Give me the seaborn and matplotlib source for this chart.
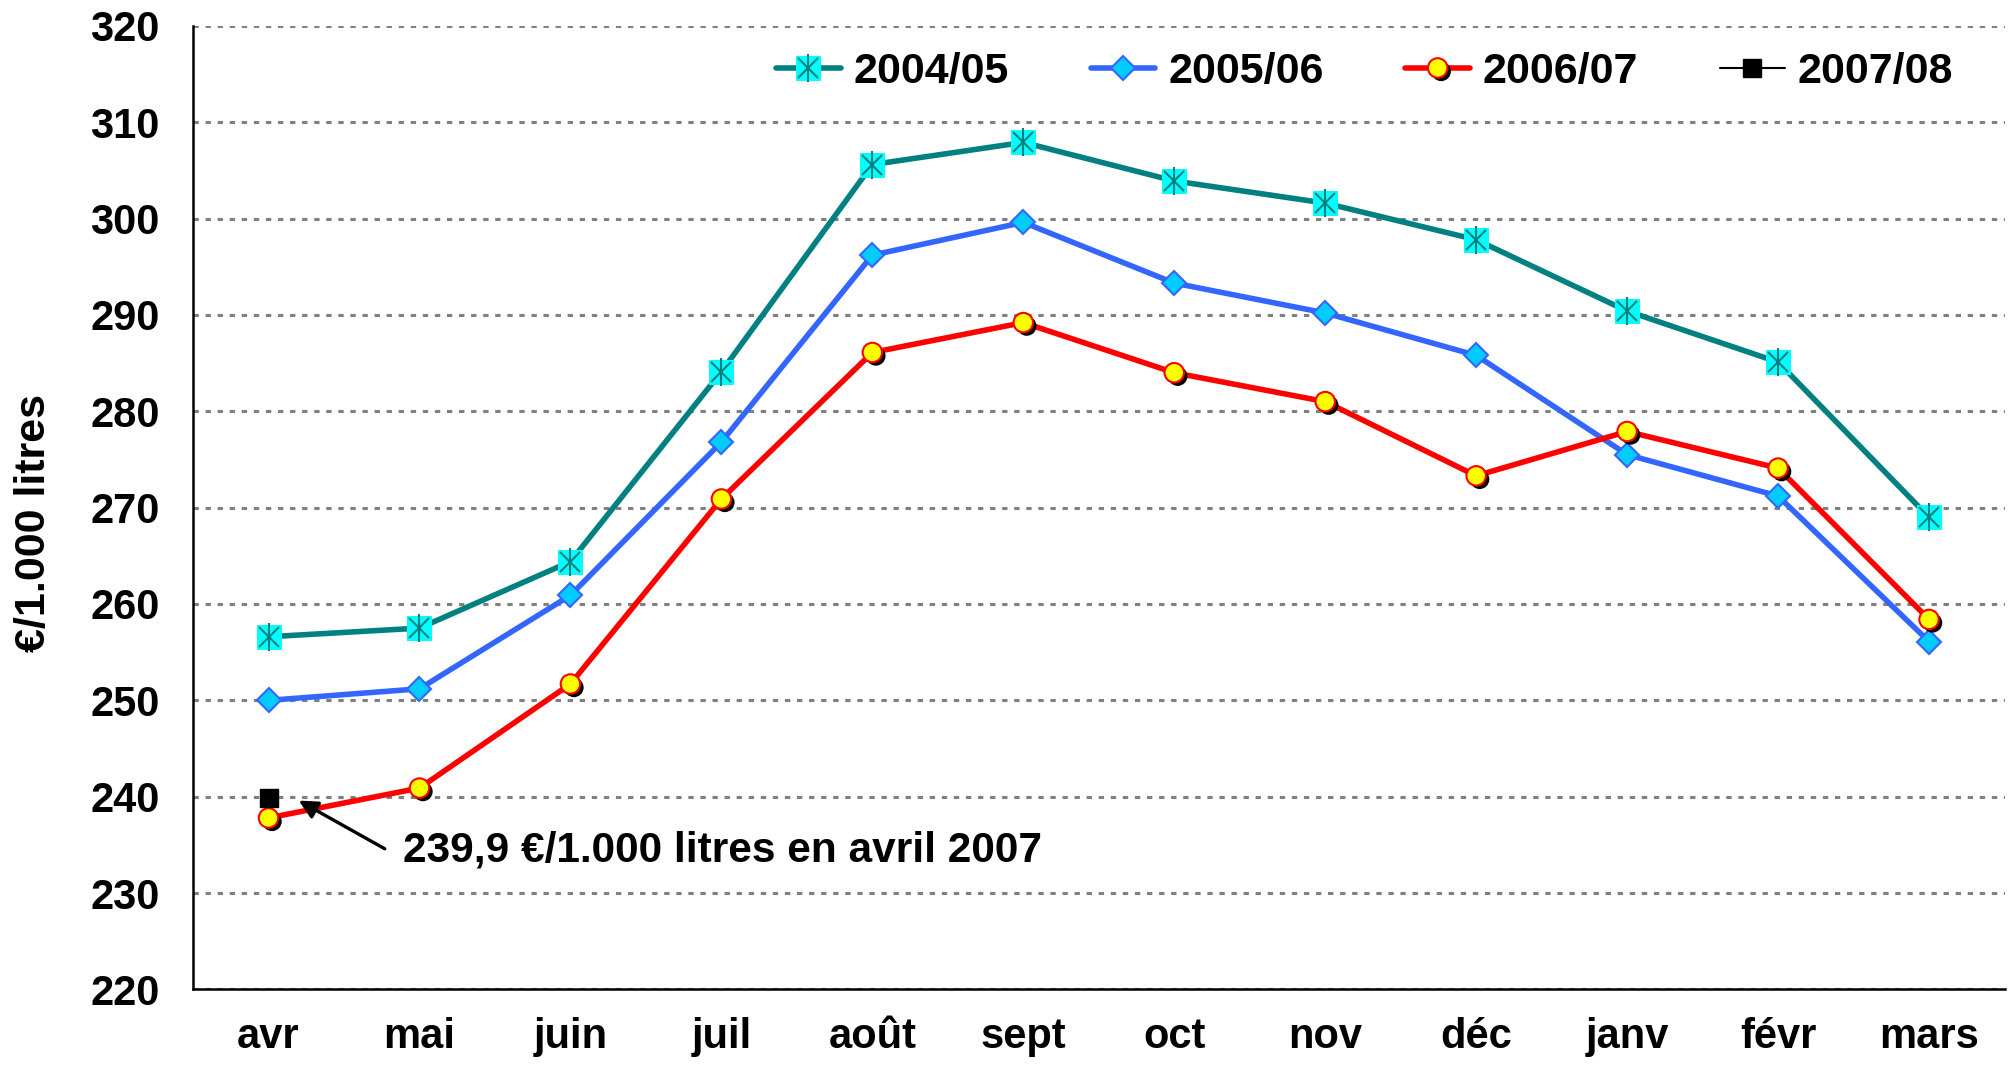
import numpy as np
import pandas as pd
import matplotlib
matplotlib.use("Agg")
import matplotlib.pyplot as plt
import matplotlib.patheffects as pe
from matplotlib.ticker import FixedLocator
import seaborn as sns

# data
mois = ['avr', 'mai', 'juin', 'juil', 'août', 'sept', 'oct', 'nov', 'déc', 'janv', 'févr', 'mars']
s2004 = [256.6, 257.5, 264.4, 284.1, 305.6, 307.9, 303.9, 301.6, 297.8, 290.4, 285.1, 269.0]
s2005 = [250.0, 251.2, 260.9, 276.8, 296.2, 299.6, 293.3, 290.2, 285.8, 275.5, 271.2, 256.1]
s2006 = [237.8, 240.9, 251.7, 270.9, 286.1, 289.2, 284.0, 281.0, 273.3, 277.9, 274.1, 258.4]
s2007 = [239.9]
note = '239,9 €/1.000 litres en avril 2007'

sns.set_style('white')
plt.rcParams['font.family'] = ['Liberation Sans', 'DejaVu Sans']
plt.rcParams['font.weight'] = 'bold'
plt.rcParams['text.color'] = 'black'

x = np.arange(len(mois))
df = pd.DataFrame({'x': x, '2004/05': s2004, '2005/06': s2005, '2006/07': s2006})

fig = plt.figure(figsize=(20.15, 10.74), dpi=100)
ax = fig.add_axes([0.0958, 0.0787, 0.899, 0.8973])

# 2004/05 : carré cyan avec astérisque
sns.lineplot(data=df, x='x', y='2004/05', ax=ax, color='#008080', lw=4,
             marker='s', markersize=17, markerfacecolor='#00FFFF',
             markeredgecolor='#00FFFF', zorder=3)
l1 = ax.lines[-1]
m1a, = ax.plot(x, s2004, ls='', marker='x', ms=15, mec='#008080', mew=1.5, zorder=4)
m1b, = ax.plot(x, s2004, ls='', marker='|', ms=20, mec='#008080', mew=1.5, zorder=4)

# 2005/06 : losange
sns.lineplot(data=df, x='x', y='2005/06', ax=ax, color='#3366FF', lw=4,
             marker='D', markersize=12, markerfacecolor='#00CCFF',
             markeredgecolor='#3366FF', markeredgewidth=1.5, zorder=3)
l2 = ax.lines[-1]

# 2006/07 : ligne rouge, cercles jaunes avec ombre
sns.lineplot(data=df, x='x', y='2006/07', ax=ax, color='#FF0000', lw=4, zorder=3)
l3 = ax.lines[-1]
m3, = ax.plot(x, s2006, ls='', marker='o', ms=14, mfc='#FFFF00', mec='#FF0000', mew=1.5,
              zorder=5, path_effects=[pe.SimplePatchShadow(offset=(2.5, -2.5), shadow_rgbFace='black', alpha=1.0),
                                      pe.Normal()])

# 2007/08 : un seul point
l4, = ax.plot(x[:len(s2007)], s2007, ls='-', lw=1.5, color='black', marker='s', ms=13,
              mfc='black', mec='black', zorder=6)

ax.annotate('', xy=(0.2, 239.6), xytext=(0.77, 234.6),
            arrowprops=dict(arrowstyle='-|>', color='black', lw=2.4, mutation_scale=28,
                            shrinkA=0, shrinkB=0))
ax.text(0.89, 234.4, note, fontsize=30.5, fontweight='bold', va='center', ha='left')

ax.set_xlim(-0.5, 11.5)
ax.set_ylim(220, 320)
ax.set_yticks(np.arange(220, 321, 10))
ax.set_xticks(x)
ax.set_xticklabels(mois)
ax.xaxis.set_minor_locator(FixedLocator(np.arange(-0.5, 12, 1)))
ax.tick_params(axis='x', which='major', length=0, pad=20, labelsize=30, labelcolor='black')
ax.tick_params(axis='x', which='minor', direction='out', length=14, width=1.8, color='black')
ax.tick_params(axis='y', direction='out', length=10, width=1.8, color='black',
               labelsize=30, labelcolor='black', pad=14)
for lab in ax.get_xticklabels() + ax.get_yticklabels():
    lab.set_fontweight('bold')

ax.set_xlabel('')
ax.set_ylabel('€/1.000 litres', fontsize=31, fontweight='bold', color='black')
ax.yaxis.set_label_coords(-0.077, 0.484)

ax.grid(axis='y', color='#808080', lw=2.2, ls=(0, (1.75, 2.2)))
ax.set_axisbelow(True)
for s in ['top', 'right']:
    ax.spines[s].set_visible(False)
for s in ['left', 'bottom']:
    ax.spines[s].set_color('black')
    ax.spines[s].set_linewidth(1.8)

ax.legend([(l1, m1a, m1b), l2, (l3, m3), l4], ['2004/05', '2005/06', '2006/07', '2007/08'],
          ncol=4, frameon=False, loc='upper right', bbox_to_anchor=(0.993, 1.013),
          prop={'size': 31, 'weight': 'bold'},
          handlelength=1.5, handletextpad=0.3, columnspacing=1.9)

fig.savefig('out.png', dpi=100)
